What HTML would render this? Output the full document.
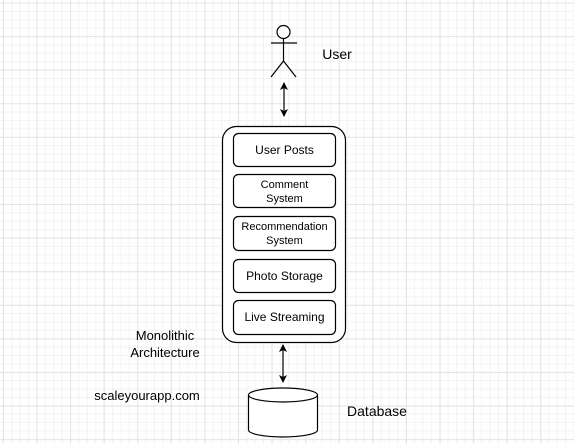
<!DOCTYPE html>
<html><head><style>
body{margin:0;width:574px;height:444px;overflow:hidden;background:#fff;
background-image:
linear-gradient(to right,#e4e4e4 1px,transparent 1px),
linear-gradient(to bottom,#e4e4e4 1px,transparent 1px),
linear-gradient(to right,#f3f3f3 1px,transparent 1px),
linear-gradient(to bottom,#f3f3f3 1px,transparent 1px);
background-size:33.6px 33.6px,33.6px 33.6px,8.4px 8.4px,8.4px 8.4px;
background-position:2.9px 2.5px,2.9px 2.5px,2.9px 2.5px,2.9px 2.5px;
font-family:"Liberation Sans",sans-serif;}
</style></head><body>
<svg width="574" height="444" style="position:absolute;left:0;top:0" font-family="Liberation Sans, sans-serif" font-size="12" text-anchor="middle">
<defs><marker id="a" markerWidth="8" markerHeight="8" refX="7" refY="4" orient="auto-start-reverse" markerUnits="userSpaceOnUse"><path d="M0,0 L8,4 L0,8 L2,4z" fill="#000"/></marker></defs>
<g stroke="#000" stroke-width="1.2" fill="none">
<circle cx="283.5" cy="32" r="6.5" fill="#fff"/>
<line x1="283.5" y1="38.5" x2="283.5" y2="61"/>
<line x1="271" y1="43" x2="297" y2="43"/>
<line x1="283.5" y1="61" x2="271" y2="77"/>
<line x1="283.5" y1="61" x2="296" y2="77"/>
<line x1="284" y1="83" x2="284" y2="116" marker-start="url(#a)" marker-end="url(#a)"/>
<line x1="283" y1="345" x2="283" y2="382" marker-start="url(#a)" marker-end="url(#a)"/>
<rect x="222.5" y="126.5" width="123" height="216" rx="14" fill="#fff"/>
<rect x="233.5" y="133.5" width="102" height="33" rx="5"/>
<rect x="233.5" y="174.5" width="102" height="33" rx="5"/>
<rect x="233.5" y="216.5" width="102" height="34" rx="5"/>
<rect x="233.5" y="259.5" width="102" height="33" rx="5"/>
<rect x="233.5" y="300.5" width="102" height="34" rx="5"/>
<path d="M248.5,395 L248.5,430 A34.5,7 0 0 0 317.5,430 L317.5,395" fill="#fff"/>
<ellipse cx="283" cy="395" rx="34.5" ry="7" fill="#fff"/>
</g>
<text x="284.5" y="154">User Posts</text>
<text x="284.5" y="188" font-size="11">Comment</text>
<text x="284.5" y="202" font-size="11">System</text>
<text x="284.5" y="230" font-size="11">Recommendation</text>
<text x="284.5" y="244" font-size="11">System</text>
<text x="284.5" y="280">Photo Storage</text>
<text x="284.5" y="321">Live Streaming</text>
<text x="337" y="59" font-size="14">User</text>
<text x="377" y="416" font-size="14">Database</text>
<text x="165" y="340" font-size="13">Monolithic</text>
<text x="165" y="357" font-size="13">Architecture</text>
<text x="147" y="400" font-size="13">scaleyourapp.com</text>
</svg>
</body></html>
